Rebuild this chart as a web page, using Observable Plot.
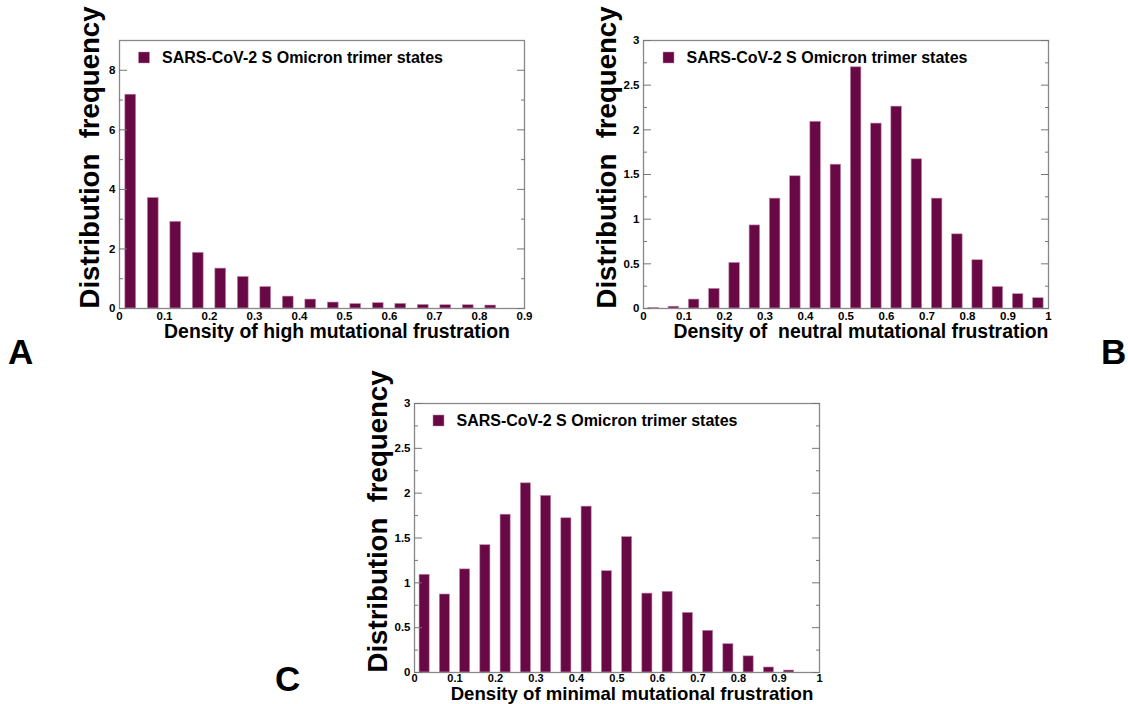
<!DOCTYPE html>
<html>
<head>
<meta charset="utf-8">
<script src="https://cdn.jsdelivr.net/npm/d3@7"></script>
<script src="https://cdn.jsdelivr.net/npm/@observablehq/plot@0.6"></script>
<style>
  html, body { margin: 0; padding: 0; background: #fff; }
  #root { position: relative; width: 1128px; height: 704px; overflow: hidden; font-family: "Liberation Sans", Arial, sans-serif; }
  .panel { position: absolute; }
  .panel svg text { white-space: pre; }
  .letter { position: absolute; font-family: "Liberation Sans", Arial, sans-serif; font-weight: bold; font-size: 35px; line-height: 1; color: #000; }
</style>
</head>
<body>
<div id="root">
  <div class="panel" id="pA" style="left:0px;top:0px"></div>
  <div class="panel" id="pB" style="left:560px;top:0px"></div>
  <div class="panel" id="pC" style="left:330px;top:360px"></div>
  <div class="letter" style="left:8px;top:334px">A</div>
  <div class="letter" style="left:1101px;top:334px">B</div>
  <div class="letter" style="left:275px;top:661px">C</div>
</div>
<script>
// ---- Data ----
const legendLabel = "SARS-CoV-2 S Omicron trimer states";
const yAxisLabel = "Distribution  frequency";

const binsA = [0.025, 0.075, 0.125, 0.175, 0.225, 0.275, 0.325, 0.375, 0.425, 0.475, 0.525, 0.575, 0.625, 0.675, 0.725, 0.775, 0.825];
const freqA = [7.18, 3.71, 2.91, 1.87, 1.34, 1.06, 0.72, 0.40, 0.30, 0.20, 0.15, 0.18, 0.155, 0.12, 0.11, 0.11, 0.10];
const xLabelA = "Density of high mutational frustration";
const xTicksA = [0, 0.1, 0.2, 0.3, 0.4, 0.5, 0.6, 0.7, 0.8, 0.9];
const yMajorA = [0, 2, 4, 6, 8];
const yMinorA = [1, 3, 5, 7];

const binsB = [0.025, 0.075, 0.125, 0.175, 0.225, 0.275, 0.325, 0.375, 0.425, 0.475, 0.525, 0.575, 0.625, 0.675, 0.725, 0.775, 0.825, 0.875, 0.925, 0.975];
const freqB = [0.007, 0.02, 0.10, 0.22, 0.51, 0.93, 1.23, 1.48, 2.09, 1.61, 2.70, 2.07, 2.26, 1.67, 1.23, 0.83, 0.54, 0.24, 0.16, 0.115];
const xLabelB = "Density of  neutral mutational frustration";

const binsC = [0.025, 0.075, 0.125, 0.175, 0.225, 0.275, 0.325, 0.375, 0.425, 0.475, 0.525, 0.575, 0.625, 0.675, 0.725, 0.775, 0.825, 0.875, 0.925];
const freqC = [1.09, 0.87, 1.15, 1.42, 1.76, 2.11, 1.97, 1.72, 1.85, 1.13, 1.51, 0.88, 0.90, 0.665, 0.465, 0.316, 0.18, 0.056, 0.022];
const xLabelC = "Density of minimal mutational frustration";

const xTicks01 = [0, 0.1, 0.2, 0.3, 0.4, 0.5, 0.6, 0.7, 0.8, 0.9, 1];
const yMajor3 = [0, 0.5, 1, 1.5, 2, 2.5, 3];
const yMinor3 = [0.25, 0.75, 1.25, 1.75, 2.25, 2.75];

// ---- Styles ----
const barFill = "#680945";
const barStroke = "#c48aab";
const frameColor = "#888";
const tickColor = "#777";

function tickMarks(ticks, anchor, size) {
  return Plot.axisY(ticks, {
    anchor, tickSize: size,
    insetLeft: anchor === "left" ? size : 0,
    insetRight: anchor === "right" ? size : 0,
    stroke: tickColor, fill: "none", label: null
  });
}

function panel(cfg) {
  const data = cfg.bins.map((b, i) => ({x: b, y: cfg.values[i]}));
  const hw = cfg.barWidth / 2;
  return Plot.plot({
    width: cfg.width,
    height: cfg.height,
    marginLeft: cfg.ml, marginRight: cfg.mr, marginTop: cfg.mt, marginBottom: cfg.mb,
    style: {fontFamily: "'Liberation Sans', Arial, sans-serif", fontSize: "11px", color: "#000", background: "transparent"},
    x: {domain: cfg.xDomain, label: null},
    y: {domain: cfg.yDomain, label: null},
    marks: [
      Plot.rect(data, {x1: d => d.x - hw, x2: d => d.x + hw, y1: 0, y2: "y", fill: barFill, stroke: barStroke, strokeWidth: 0.6}),
      Plot.frame({stroke: frameColor, strokeWidth: 1.3}),
      tickMarks(cfg.yMajor, "left", 8),
      tickMarks(cfg.yMinor, "left", 4),
      tickMarks(cfg.yMajor, "right", 8),
      tickMarks(cfg.yMinor, "right", 4),
      Plot.axisY(cfg.yMajor, {anchor: "left", tickSize: 0, tickPadding: 4, fontWeight: "bold", fontSize: 11.5, tickFormat: d => String(d), label: null}),
      Plot.axisX(cfg.xTicks, {anchor: "bottom", tickSize: 0, tickPadding: cfg.xTickPad, fontWeight: "bold", fontSize: cfg.xTickFont, tickFormat: d => String(d), label: null}),
      Plot.text([cfg.xLabel], {frameAnchor: "bottom", lineAnchor: "middle", textAnchor: "middle", dx: 15, dy: cfg.xLabelDy, fontSize: cfg.xLabelFont, fontWeight: "bold", fill: "#000"}),
      Plot.text([yAxisLabel], {frameAnchor: "bottom-left", lineAnchor: "middle", rotate: -90, textAnchor: "start", dx: -cfg.yLabelOffset, fontSize: 27.6, fontWeight: "bold", fill: "#000"}),
      Plot.dot([legendLabel], {frameAnchor: "top-left", dx: cfg.legendDx, dy: 17, symbol: "square", r: 6.2, fill: barFill, stroke: barStroke, strokeWidth: 0.5}),
      Plot.text([legendLabel], {frameAnchor: "top-left", lineAnchor: "middle", textAnchor: "start", dx: cfg.legendDx + 18, dy: 17.5, fontSize: 16, fontWeight: "bold", fill: "#000"})
    ]
  });
}

document.getElementById("pA").append(panel({
  bins: binsA, values: freqA, barWidth: 0.024,
  width: 540, height: 345, ml: 119, mr: 16, mt: 40, mb: 37,
  xDomain: [0, 0.9], yDomain: [0, 9],
  xTicks: xTicksA, yMajor: yMajorA, yMinor: yMinorA,
  xLabel: xLabelA, xLabelDy: 23, xLabelFont: 19.4, xTickPad: 3, xTickFont: 11.5,
  yLabelOffset: 29, legendDx: 24.5
}));

document.getElementById("pB").append(panel({
  bins: binsB, values: freqB, barWidth: 0.026,
  width: 500, height: 345, ml: 83, mr: 12, mt: 40, mb: 37,
  xDomain: [0, 1], yDomain: [0, 3],
  xTicks: xTicks01, yMajor: yMajor3, yMinor: yMinor3,
  xLabel: xLabelB, xLabelDy: 23, xLabelFont: 19.4, xTickPad: 3, xTickFont: 11.5,
  yLabelOffset: 36, legendDx: 25
}));

document.getElementById("pC").append(panel({
  bins: binsC, values: freqC, barWidth: 0.025,
  width: 500, height: 344, ml: 84, mr: 11, mt: 43, mb: 32,
  xDomain: [0, 1], yDomain: [0, 3],
  xTicks: xTicks01, yMajor: yMajor3, yMinor: yMinor3,
  xLabel: xLabelC, xLabelDy: 21.5, xLabelFont: 18.6, xTickPad: 2, xTickFont: 11,
  yLabelOffset: 36, legendDx: 24
}));
</script>
</body>
</html>
